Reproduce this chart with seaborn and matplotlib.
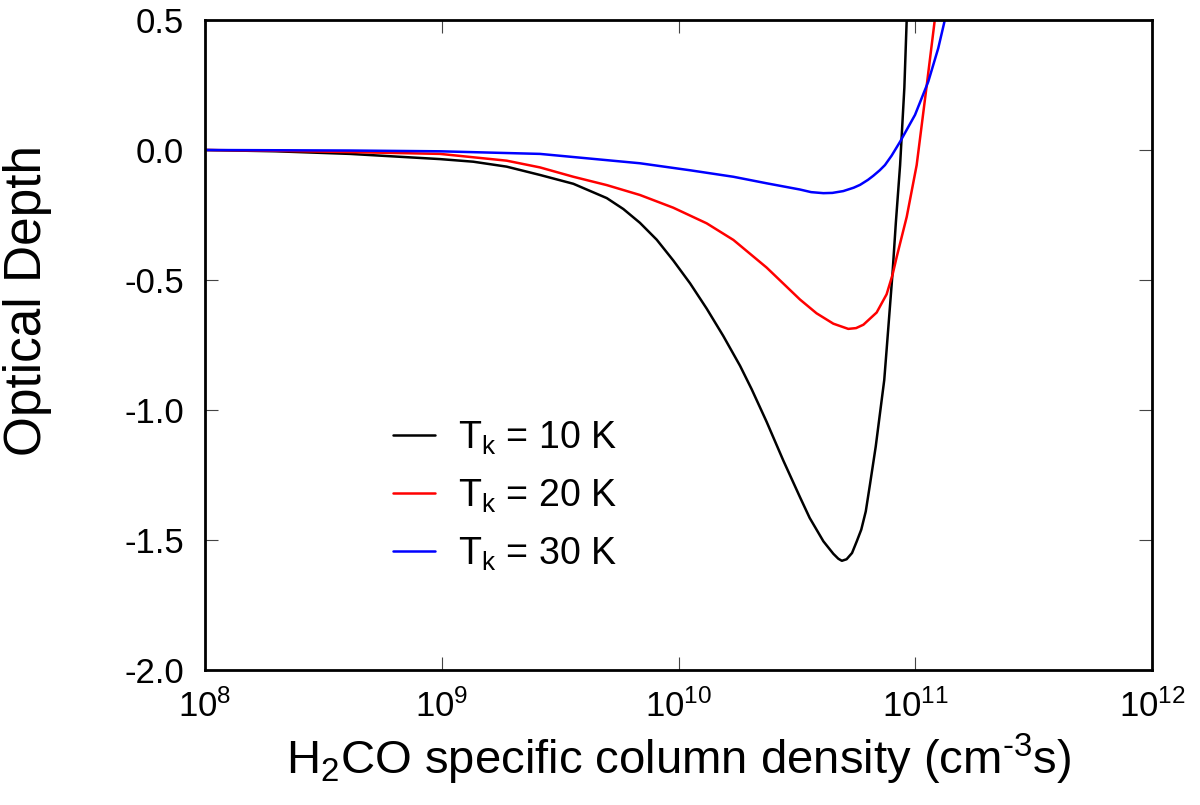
import numpy as np
import pandas as pd
import seaborn as sns
import matplotlib
matplotlib.use("Agg")
import matplotlib.pyplot as plt
from matplotlib.ticker import FixedLocator, NullLocator, FormatStrFormatter, LogFormatterMathtext


# values (x given as log10 of column density)
logx_10K = [8.0, 8.3, 8.612, 8.993, 9.133, 9.274, 9.415, 9.556, 9.697, 9.767, 9.837, 9.908,
            9.978, 10.049, 10.119, 10.189, 10.260, 10.309, 10.372, 10.443, 10.513, 10.554,
            10.612, 10.654, 10.675, 10.690, 10.710, 10.733, 10.753, 10.772, 10.791, 10.809,
            10.833, 10.851, 10.869, 10.879, 10.904, 10.918, 10.936, 10.954, 10.964, 10.978]
tau_10K = [0.0, -0.005, -0.015, -0.035, -0.045, -0.064, -0.096, -0.130, -0.185, -0.227, -0.280,
           -0.345, -0.425, -0.513, -0.610, -0.715, -0.830, -0.920, -1.045, -1.195, -1.335,
           -1.415, -1.505, -1.553, -1.572, -1.580, -1.574, -1.550, -1.505, -1.460, -1.390,
           -1.285, -1.141, -1.013, -0.885, -0.769, -0.474, -0.280, -0.058, 0.240, 0.504, 0.80]

logx_20K = [8.0, 8.3, 8.612, 8.993, 9.274, 9.415, 9.556, 9.697, 9.837, 9.978, 10.119, 10.232,
            10.372, 10.450, 10.513, 10.583, 10.654, 10.717, 10.750, 10.781, 10.837, 10.879,
            10.904, 10.922, 10.964, 11.006, 11.048, 11.083, 11.096]
tau_20K = [0.0, -0.003, -0.008, -0.015, -0.041, -0.067, -0.103, -0.135, -0.173, -0.222, -0.282,
           -0.346, -0.452, -0.520, -0.575, -0.628, -0.668, -0.688, -0.685, -0.672, -0.625,
           -0.555, -0.480, -0.410, -0.257, -0.058, 0.245, 0.504, 0.60]

logx_30K = [8.0, 8.612, 8.993, 9.415, 9.837, 10.049, 10.232, 10.372, 10.513, 10.560, 10.612,
            10.650, 10.696, 10.740, 10.767, 10.800, 10.823, 10.850, 10.872, 10.900, 10.936,
            10.999, 11.055, 11.097, 11.126, 11.140]
tau_30K = [0.0, -0.002, -0.005, -0.015, -0.051, -0.078, -0.103, -0.128, -0.152, -0.162, -0.166,
           -0.165, -0.158, -0.145, -0.134, -0.115, -0.099, -0.078, -0.058, -0.022, 0.032,
           0.135, 0.263, 0.391, 0.504, 0.56]

labels = [r'$\mathregular{T_k}$ = 10 K', r'$\mathregular{T_k}$ = 20 K', r'$\mathregular{T_k}$ = 30 K']
colors = ['black', 'red', 'blue']

ytick_vals = [-2.0, -1.5, -1.0, -0.5, 0.0, 0.5]
xtick_vals = [1e8, 1e9, 1e10, 1e11, 1e12]


# long table for seaborn
frames = []
for lx, tau, lab in zip([logx_10K, logx_20K, logx_30K], [tau_10K, tau_20K, tau_30K], labels):
    frames.append(pd.DataFrame({'N': 10 ** np.array(lx), 'tau': tau, 'curve': lab}))
df = pd.concat(frames, ignore_index=True)


sns.set_style('ticks')
plt.rcParams['font.family'] = ['Liberation Sans', 'DejaVu Sans']
plt.rcParams['mathtext.fontset'] = 'custom'
plt.rcParams['mathtext.rm'] = 'Liberation Sans'
plt.rcParams['mathtext.it'] = 'Liberation Sans:italic'
plt.rcParams['axes.unicode_minus'] = False
plt.rcParams['text.color'] = 'black'
plt.rcParams['axes.labelcolor'] = 'black'

fig = plt.figure(figsize=(12, 8.05), dpi=100)
ax = fig.add_axes([205 / 1200, 1 - 670 / 805, (1152 - 205) / 1200, (670 - 20) / 805])

sns.lineplot(data=df, x='N', y='tau', hue='curve', hue_order=labels,
             palette=dict(zip(labels, colors)), linewidth=1.8, sort=False,
             estimator=None, ax=ax)

ax.set_xscale('log')
ax.set_xlim(1e8, 1e12)
ax.set_ylim(-2.0, 0.5)
ax.xaxis.set_major_locator(FixedLocator(xtick_vals))
ax.xaxis.set_major_formatter(LogFormatterMathtext())
ax.xaxis.set_minor_locator(NullLocator())
ax.yaxis.set_major_locator(FixedLocator(ytick_vals))
ax.yaxis.set_major_formatter(FormatStrFormatter('%.1f'))

for s in ax.spines.values():
    s.set_linewidth(2.0)
    s.set_color('black')
    s.set_visible(True)
ax.tick_params(which='major', direction='in', length=9.5, width=0.8,
               top=True, right=True, labelsize=25, color='#444444', labelcolor='black')
ax.tick_params(axis='x', pad=14)
ax.tick_params(axis='y', pad=15)

ax.set_xlabel('$\\mathregular{H_2CO}$ specific column density (cm$\\mathregular{^{\u20103}}$s)',
              fontsize=34, labelpad=6)
ax.set_ylabel('Optical Depth', fontsize=37)
ax.yaxis.set_label_coords(-0.162, 0.569)

leg = ax.legend(loc='center left', bbox_to_anchor=((393 - 205) / 947, (670 - 496) / 650),
                frameon=False, fontsize=27, handlelength=1.12, handletextpad=0.6,
                labelspacing=0.55, borderaxespad=0, borderpad=0)
for line in leg.get_lines():
    line.set_linewidth(1.8)

fig.savefig('out.png', dpi=100)
